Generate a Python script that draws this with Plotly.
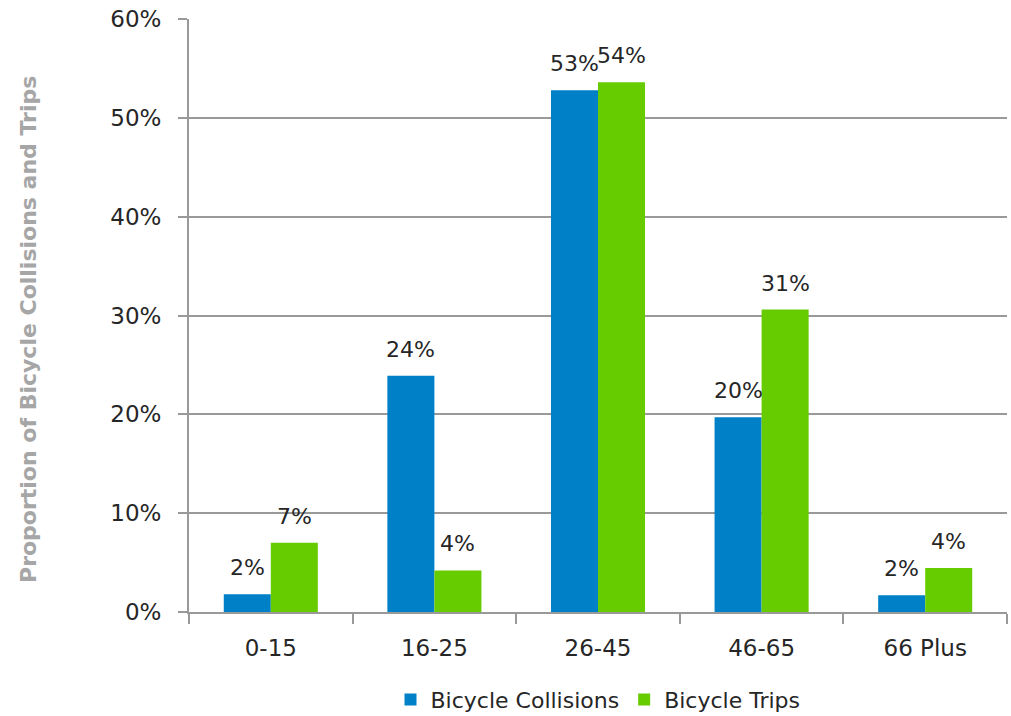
import plotly.graph_objects as go

categories = ["0-15", "16-25", "26-45", "46-65", "66 Plus"]
collisions = [1.8, 23.9, 52.8, 19.7, 1.7]
trips = [7.0, 4.2, 53.6, 30.6, 4.45]
y_ticks = [0, 10, 20, 30, 40, 50, 60]
y_tick_labels = ["0%", "10%", "20%", "30%", "40%", "50%", "60%"]

FONT = "'DejaVu Sans', sans-serif"
TXT = "#262626"
BLUE = "#0080C6"
GREEN = "#66CC00"

fig = go.Figure()
fig.add_trace(go.Bar(
    x=categories, y=collisions, name="Bicycle Collisions",
    marker=dict(color=BLUE, line=dict(width=0)),
))
fig.add_trace(go.Bar(
    x=categories, y=trips, name="Bicycle Trips",
    marker=dict(color=GREEN, line=dict(width=0)),
))

# data labels above each bar (grouped bars are offset half a bar width)
half_bar = 23.5
for series, shift in ((collisions, -half_bar), (trips, half_bar)):
    for cat, val in zip(categories, series):
        fig.add_annotation(
            x=cat, y=val, xref="x", yref="y", text=f"{val:.0f}%",
            showarrow=False, xanchor="center", yanchor="bottom",
            xshift=shift, yshift=12,
            font=dict(size=22, color=TXT, family=FONT),
        )

fig.update_layout(
    width=1011, height=716,
    margin=dict(l=189, r=4, t=19, b=104, autoexpand=False),
    paper_bgcolor="white", plot_bgcolor="white",
    barmode="group", bargap=0.425, bargroupgap=0,
    font=dict(family=FONT, size=23, color=TXT),
    showlegend=True,
    legend=dict(orientation="h", x=0.5, xanchor="center", y=-0.148, yanchor="middle",
                font=dict(size=22, color=TXT, family=FONT), itemwidth=30,
                tracegroupgap=0),
)
fig.update_xaxes(
    type="category", showline=True, linecolor="#999999", linewidth=2,
    ticks="outside", tickson="boundaries", ticklen=10, tickcolor="#999999", tickwidth=2,
    tickfont=dict(size=23, color=TXT, family=FONT), showgrid=False,
    ticklabelstandoff=14,
)
fig.update_yaxes(
    range=[0, 60], tickvals=y_ticks, ticktext=y_tick_labels,
    showline=True, linecolor="#999999", linewidth=2,
    ticks="outside", ticklen=9, tickcolor="#999999", tickwidth=2,
    showgrid=True, gridcolor="#999999", gridwidth=2,
    tickfont=dict(size=23, color=TXT, family=FONT), zeroline=False,
    ticklabelstandoff=12,
)
fig.add_annotation(
    text="<b>Proportion of Bicycle Collisions and Trips</b>",
    xref="paper", yref="paper", x=-0.197, y=0.477,
    xanchor="center", yanchor="middle", textangle=-90, showarrow=False,
    font=dict(size=22, color="#A6A6A6", family=FONT),
)

fig.write_html("out.html")
